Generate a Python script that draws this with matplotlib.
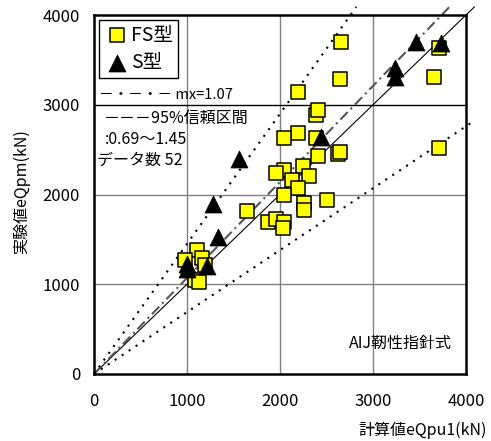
import numpy as np
import matplotlib
matplotlib.use("Agg")
import matplotlib.pyplot as plt

plt.rcParams['font.family'] = ['Noto Sans CJK JP', 'DejaVu Sans']

# FS型 : 計算値 / 実験値 (kN)
fs_calc = [2660, 2650, 2195, 2392, 2409, 2195, 2041, 2392, 2409, 2625, 2650,
           2245, 2041, 1962, 2134, 2313, 2195, 2041, 2510, 2256, 2256, 1640,
           1872, 1955, 2041, 2027, 3709, 3659, 3709, 1103, 977, 1157, 1192,
           1085, 1131]
fs_exp = [3700, 3290, 3145, 2886, 2942, 2689, 2630, 2633, 2425, 2451, 2477,
          2320, 2270, 2236, 2162, 2205, 2069, 1990, 1940, 1910, 1830, 1816,
          1697, 1724, 1697, 1624, 2521, 3304, 3629, 1382, 1270, 1289, 1214,
          1047, 1028]

# S型
s_calc = [3459, 3734, 3233, 3233, 2440, 1561, 1282, 1336, 1000, 1000, 1210]
s_exp = [3696, 3684, 3406, 3313, 2640, 2392, 1890, 1530, 1230, 1170, 1200]

# 回帰比 mx と 95%信頼区間
mx = 1.07
lo, hi = 0.69, 1.45
n_data = 52

fig = plt.figure(figsize=(4.91, 4.41), dpi=100)
ax = fig.add_axes([94/491, 1-374/441, 372/491, 359/441])

ax.set_xlim(0, 4000)
ax.set_ylim(0, 4000)
ax.set_xticks([0, 1000, 2000, 3000, 4000])
ax.set_yticks([0, 1000, 2000, 3000, 4000])
ax.tick_params(length=0, labelsize=12)
ax.tick_params(axis='x', pad=14)
ax.tick_params(axis='y', pad=10)

for v in [1000, 2000, 3000]:
    ax.axvline(v, color='#808080', lw=1.0, zorder=1)
    ax.axhline(v, color='black' if v == 3000 else '#808080',
               lw=1.0, zorder=1)
for s in ax.spines.values():
    s.set_linewidth(1.8)

top = 4090
def ratio_line(k, **kw):
    xe = min(4100, top / k)
    ax.plot([0, xe], [0, k * xe], clip_on=False, **kw)

ratio_line(1.0, color='black', lw=0.8, zorder=2)
ratio_line(mx, color='#555555', lw=1.5, ls=(0, (5, 2, 1, 2)), zorder=2)
ratio_line(lo, color='black', lw=1.5, ls=(0, (1, 3)), zorder=2)
ratio_line(hi, color='black', lw=1.5, ls=(0, (1, 3)), zorder=2)

ax.scatter(fs_calc, fs_exp, marker='s', s=100, c='#ffff00',
           edgecolors='black', linewidths=1.1, zorder=3, label='FS型')
ax.scatter(s_calc, s_exp, marker='^', s=150, c='black',
           edgecolors='black', linewidths=0.5, zorder=4, label='S型')

leg = ax.legend(loc='upper left', bbox_to_anchor=(0.013, 0.987),
                fontsize=14, handletextpad=0.0, borderpad=0.25,
                labelspacing=0.35, handlelength=1.4, borderaxespad=0.0,
                fancybox=False, framealpha=1)
leg.get_frame().set_edgecolor('black')
leg.get_frame().set_linewidth(1.0)

fig.text(99/491, 1-95/441, '－・－・－ mx=%.2f' % mx, fontsize=10.5,
         va='center', ha='left')
fig.text(104/491, 1-118/441, '－－－95%信頼区間', fontsize=11.5,
         va='center', ha='left')
fig.text(105/491, 1-140/441, ':%.2f～%.2f' % (lo, hi), fontsize=11.5,
         va='center', ha='left')
fig.text(97/491, 1-160/441, 'データ数 %d' % n_data, fontsize=11.5,
         va='center', ha='left')

ax.text(0.962, 0.086, 'AIJ靭性指針式', transform=ax.transAxes,
        fontsize=11.5, ha='right', va='center')

fig.text(487/491, 1-430/441, '計算値eQpu1(kN)', fontsize=11.5,
         ha='right', va='center')
fig.text(22/491, 1-192/441, '実験値eQpm(kN)', fontsize=11.5,
         rotation=90, ha='center', va='center')

fig.savefig('out.png', dpi=100)
